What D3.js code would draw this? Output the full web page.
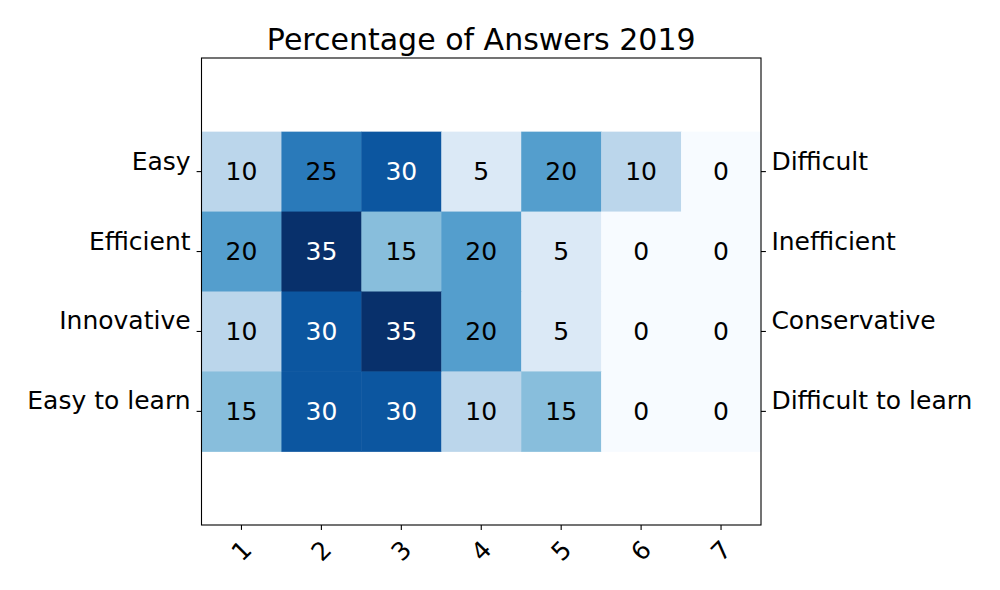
<!DOCTYPE html>
<html lang="en">
<head>
  <meta charset="UTF-8">
  <title>Percentage of Answers 2019</title>
  <style>
    body {
      margin: 0;
      background-color: white;
      overflow: hidden;
    }

    text {
      font-family: "DejaVu Sans", sans-serif;
    }

    .tick-label {
      font-size: 25px;
      fill: black;
    }

    .cell-label {
      font-size: 25px;
      text-anchor: middle;
    }

    .title {
      font-size: 30px;
      text-anchor: middle;
    }
  </style>
</head>
<body>
  <script src="https://d3js.org/d3.v7.min.js"></script>
  <script>
    const width = 1000;
    const height = 590;

    // data
    const columns = ["1", "2", "3", "4", "5", "6", "7"];
    const leftLabels = ["Easy", "Efficient", "Innovative", "Easy to learn"];
    const rightLabels = ["Difficult", "Inefficient", "Conservative", "Difficult to learn"];
    const easyValues = [10, 25, 30, 5, 20, 10, 0];
    const efficientValues = [20, 35, 15, 20, 5, 0, 0];
    const innovativeValues = [10, 30, 35, 20, 5, 0, 0];
    const learnValues = [15, 30, 30, 10, 15, 0, 0];

    const rows = [easyValues, efficientValues, innovativeValues, learnValues];

    // matplotlib "Blues" colour stops
    const bluesStops = ["#f7fbff", "#deebf7", "#c6dbef", "#9ecae1", "#6baed6",
                        "#4292c6", "#2171b5", "#08519c", "#08306b"];

    const cells = [];
    rows.forEach((vals, r) => {
      vals.forEach((v, c) => {
        cells.push({ row: leftLabels[r], col: columns[c], value: v });
      });
    });

    // axes box
    const ax = { left: 201.5, right: 761, top: 58, bottom: 525 };
    const cellSize = (ax.right - ax.left) / columns.length;
    const imgHeight = cellSize * leftLabels.length;
    const imgTop = ax.top + ((ax.bottom - ax.top) - imgHeight) / 2;

    const x = d3.scaleBand()
      .domain(columns)
      .range([ax.left, ax.right]);

    const y = d3.scaleBand()
      .domain(leftLabels)
      .range([imgTop, imgTop + imgHeight]);

    const vmax = d3.max(cells, d => d.value);
    const color = d3.scaleLinear()
      .domain(bluesStops.map((_, i) => vmax * i / (bluesStops.length - 1)))
      .range(bluesStops)
      .interpolate(d3.interpolateRgb);

    const svg = d3.select("body").append("svg")
      .attr("width", width)
      .attr("height", height);

    svg.append("rect")
      .attr("width", width)
      .attr("height", height)
      .attr("fill", "white");

    // heatmap cells
    svg.append("g")
      .selectAll("rect")
      .data(cells)
      .enter()
      .append("rect")
      .attr("x", d => x(d.col))
      .attr("y", d => y(d.row))
      .attr("width", x.bandwidth() + 0.5)
      .attr("height", y.bandwidth() + 0.5)
      .attr("fill", d => color(d.value));

    svg.append("g")
      .selectAll("text")
      .data(cells)
      .enter()
      .append("text")
      .attr("class", "cell-label")
      .attr("x", d => x(d.col) + x.bandwidth() / 2)
      .attr("y", d => y(d.row) + y.bandwidth() / 2 + 8.5)
      .attr("fill", d => d.value > 25 ? "white" : "black")
      .text(d => d.value);

    // frame
    svg.append("rect")
      .attr("x", ax.left)
      .attr("y", ax.top)
      .attr("width", ax.right - ax.left)
      .attr("height", ax.bottom - ax.top)
      .attr("fill", "none")
      .attr("stroke", "black")
      .attr("stroke-width", 1.1);

    const tickLen = 4.9;

    // left axis
    const leftG = svg.append("g");
    leftLabels.forEach((lab, i) => {
      const ty = y(lab) + y.bandwidth() / 2;
      leftG.append("line")
        .attr("x1", ax.left - tickLen).attr("x2", ax.left)
        .attr("y1", ty).attr("y2", ty)
        .attr("stroke", "black").attr("stroke-width", 1.1);
      leftG.append("text")
        .attr("class", "tick-label")
        .attr("x", ax.left - tickLen - 6)
        .attr("y", ty - 2)
        .attr("text-anchor", "end")
        .text(lab);
    });

    // right axis
    const rightG = svg.append("g");
    rightLabels.forEach((lab, i) => {
      const ty = y(leftLabels[i]) + y.bandwidth() / 2;
      rightG.append("line")
        .attr("x1", ax.right).attr("x2", ax.right + tickLen)
        .attr("y1", ty).attr("y2", ty)
        .attr("stroke", "black").attr("stroke-width", 1.1);
      rightG.append("text")
        .attr("class", "tick-label")
        .attr("x", ax.right + tickLen + 5.5)
        .attr("y", ty - 2)
        .attr("text-anchor", "start")
        .text(lab);
    });

    // bottom axis, labels rotated 45 degrees
    const bottomG = svg.append("g");
    const fs = 25;
    const boxW = 0.636 * fs;
    const boxH = 1.164 * fs;
    const half = (boxW + boxH) / (2 * Math.SQRT2);
    columns.forEach(c => {
      const tx = x(c) + x.bandwidth() / 2;
      bottomG.append("line")
        .attr("x1", tx).attr("x2", tx)
        .attr("y1", ax.bottom).attr("y2", ax.bottom + tickLen)
        .attr("stroke", "black").attr("stroke-width", 1.1);
      bottomG.append("text")
        .attr("class", "tick-label")
        .attr("text-anchor", "middle")
        .attr("transform", `translate(${tx},${ax.bottom + tickLen + 4.9 + half}) rotate(-45)`)
        .attr("dy", 8.6)
        .text(c);
    });

    // title
    svg.append("text")
      .attr("class", "title")
      .attr("x", (ax.left + ax.right) / 2)
      .attr("y", 50)
      .text("Percentage of Answers 2019");
  </script>
</body>
</html>
